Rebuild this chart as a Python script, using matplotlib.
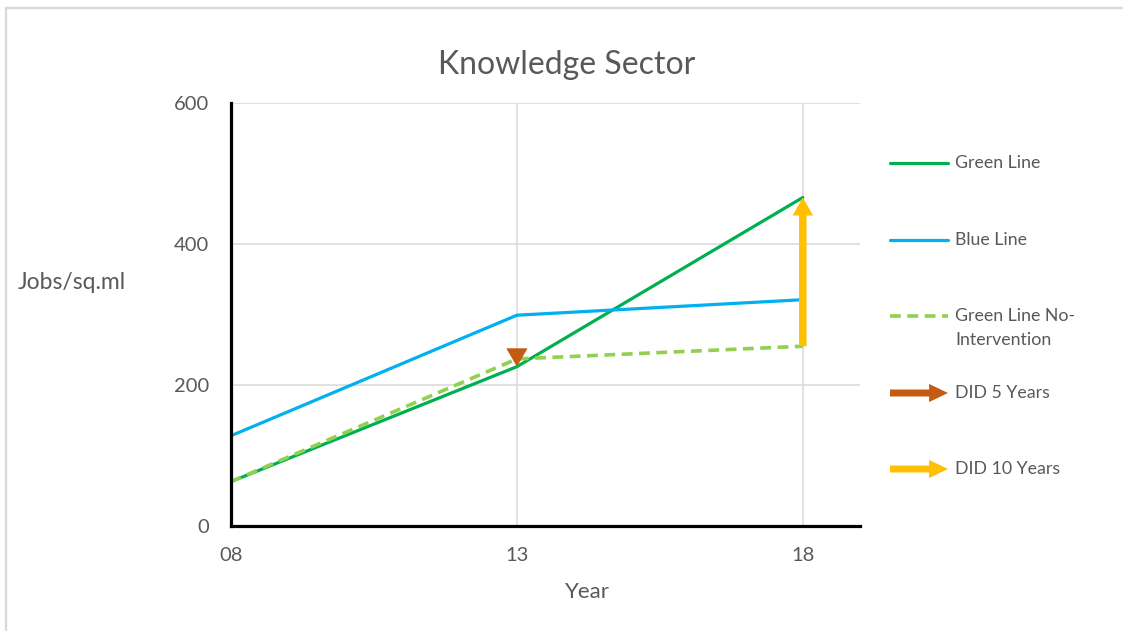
import matplotlib.pyplot as plt
from matplotlib.lines import Line2D
from matplotlib.patches import FancyArrowPatch

plt.rcParams['font.family'] = ['Lato', 'DejaVu Sans']

# jobs per square mile, 2008 / 2013 / 2018
years = [8, 13, 18]
year_labels = ['08', '13', '18']
green_line = [63, 226, 466]
blue_line = [128, 299, 321]
green_no_intervention = [63, 237, 255]
y_ticks = [0, 200, 400, 600]

GREEN = '#00b050'
BLUE = '#00b0f0'
LIGHT_GREEN = '#92d050'
BROWN = '#c55a11'
GOLD = '#ffc000'
TEXT = '#595959'
GRID = '#d9d9d9'
DASH = (3.0, 1.8)

W, H = 1123, 631
fig = plt.figure(figsize=(W / 100, H / 100), dpi=100)
ax = fig.add_axes([231 / W, 1 - 526 / H, (860 - 231) / W, (526 - 103) / H])

ax.plot(years, green_line, color=GREEN, lw=2.3, solid_capstyle='round', zorder=3)
ax.plot(years, blue_line, color=BLUE, lw=2.3, solid_capstyle='round', zorder=3)
ax.plot(years, green_no_intervention, color=LIGHT_GREEN, lw=2.6,
        dashes=DASH, zorder=4)

# DID 5 years: drop from no-intervention to actual at 2013
ax.annotate('', xy=(years[1], green_line[1]), xytext=(0, 13),
            textcoords='offset points',
            arrowprops=dict(arrowstyle='-|>,head_length=0.62,head_width=0.36',
                            mutation_scale=20, color=BROWN, lw=0.5,
                            shrinkA=0, shrinkB=0), zorder=5)

# DID 10 years: rise from no-intervention to actual at 2018
ax.add_patch(FancyArrowPatch((years[2], green_no_intervention[2]),
                             (years[2], green_line[2]),
                             arrowstyle='simple,head_length=0.65,head_width=0.74,tail_width=0.27',
                             mutation_scale=20, color=GOLD, lw=0,
                             shrinkA=0, shrinkB=0, zorder=5))

ax.set_xlim(8, 19)
ax.set_ylim(0, 600)
ax.set_xticks(years)
ax.set_xticklabels(year_labels)
ax.set_yticks(y_ticks)
ax.tick_params(length=0, labelsize=14.5, labelcolor=TEXT)
ax.tick_params(axis='x', pad=15)
ax.tick_params(axis='y', pad=16)

for v in y_ticks[1:]:
    ax.axhline(v, color=GRID, lw=1.1, zorder=1)
for v in years[1:]:
    ax.axvline(v, color=GRID, lw=1.1, zorder=1)

for side in ['top', 'right']:
    ax.spines[side].set_visible(False)
for side in ['left', 'bottom']:
    ax.spines[side].set_linewidth(2.3)
    ax.spines[side].set_color('black')
    ax.spines[side].set_zorder(6)

ax.set_ylabel('Jobs/sq.ml', rotation=0, ha='left', va='center',
              fontsize=16.5, color=TEXT)
ax.yaxis.set_label_coords((18 - 231) / 629, (526 - 283) / 423)
ax.set_xlabel('Year', va='center', fontsize=16, color=TEXT)
ax.xaxis.set_label_coords((587 - 231) / 629, (526 - 592) / 423)

fig.text(567 / W, 1 - 65 / H, 'Knowledge Sector', ha='center', va='center',
         fontsize=23, color=TEXT)

# legend on the right
def fx(px):
    return px / W

def fy(py):
    return 1 - py / H

x0, x1, xt = 890, 948, 955
fig.add_artist(Line2D([fx(x0), fx(x1)], [fy(163), fy(163)], color=GREEN,
                      lw=2.3, solid_capstyle='round'))
fig.add_artist(Line2D([fx(x0), fx(x1)], [fy(240), fy(240)], color=BLUE,
                      lw=2.3, solid_capstyle='round'))
fig.add_artist(Line2D([fx(x0), fx(x1)], [fy(316), fy(316)], color=LIGHT_GREEN,
                      lw=2.6, dashes=DASH))
for yy, col in [(393, BROWN), (469, GOLD)]:
    fig.add_artist(FancyArrowPatch((fx(x0), fy(yy)), (fx(x1), fy(yy)),
                                   transform=fig.transFigure,
                                   arrowstyle='simple,head_length=0.68,head_width=0.65,tail_width=0.25',
                                   mutation_scale=20, color=col, lw=0,
                                   shrinkA=0, shrinkB=0))

legend_kw = dict(fontsize=12.8, color=TEXT, va='center', ha='left')
fig.text(fx(xt), fy(163), 'Green Line', **legend_kw)
fig.text(fx(xt), fy(240), 'Blue Line', **legend_kw)
fig.text(fx(xt), fy(316), 'Green Line No-', **legend_kw)
fig.text(fx(xt), fy(340), 'Intervention', **legend_kw)
fig.text(fx(xt), fy(393), 'DID 5 Years', **legend_kw)
fig.text(fx(xt), fy(469), 'DID 10 Years', **legend_kw)

# chart frame
fig.add_artist(Line2D([fx(6), fx(6)], [fy(8), 0], color=GRID, lw=1.6))
fig.add_artist(Line2D([fx(6), 1], [fy(8), fy(8)], color=GRID, lw=1.6))

fig.savefig('out.png', dpi=100)
